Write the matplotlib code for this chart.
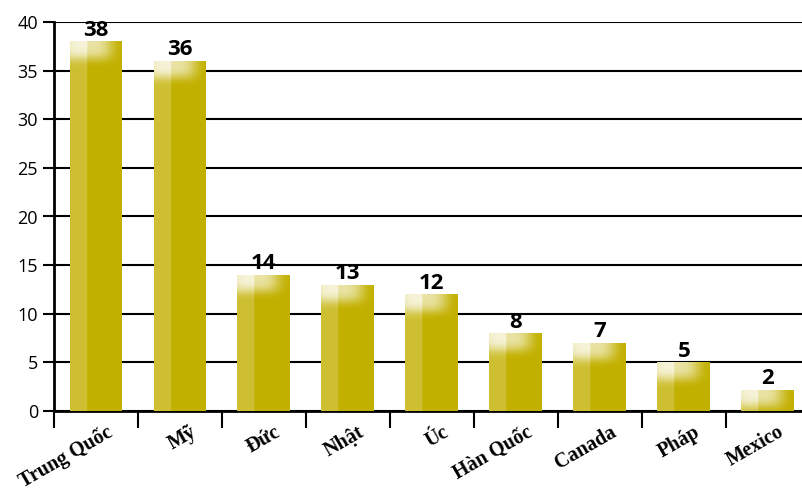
import numpy as np
import matplotlib.pyplot as plt
from matplotlib import transforms

countries = ['Trung Quốc', 'Mỹ', 'Đức', 'Nhật', 'Úc', 'Hàn Quốc', 'Canada', 'Pháp', 'Mexico']
values = [38, 36, 14, 13, 12, 8, 7, 5, 2.2]
labels = ['38', '36', '14', '13', '12', '8', '7', '5', '2']

base = '#C2B000'

fig = plt.figure(figsize=(8.03, 4.91), dpi=100)
ax = fig.add_axes([54 / 803, 80 / 491, 749 / 803, 389 / 491])

x = np.arange(len(countries))
bars = ax.bar(x, values, width=0.63, color=base, zorder=3)

# gloss: lighter left strip and a pale top-left highlight, clipped to each bar
for b in bars:
    x0, w, h = b.get_x(), b.get_width(), b.get_height()
    nx, ny = 80, 300
    xx = np.linspace(0, 1, nx)
    yy = np.linspace(0, 1, ny)
    X, Y = np.meshgrid(xx, yy)
    img = np.zeros((ny, nx, 4))
    img[..., :3] = [1.0, 1.0, 1.0]
    left = np.where(X < 0.32, 0.2, 0.0)
    top_px = (1 - Y) * h * 9.72  # distance from top in pixels
    top = 0.65 * np.exp(-((X - 0.3) / 0.5) ** 4 - (top_px / 18.0) ** 4)
    img[..., 3] = np.clip(left + top, 0, 1)
    im = ax.imshow(img, extent=[x0, x0 + w, 0, h], origin='lower', aspect='auto',
                   interpolation='bilinear', zorder=4)
    im.set_clip_path(b)

for xi, v, lab in zip(x, values, labels):
    ax.text(xi, v + 0.05, lab, ha='center', va='bottom', fontsize=16, fontweight='bold',
            fontstretch='condensed', family=['Liberation Sans Narrow', 'Open Sans', 'DejaVu Sans'],
            zorder=5)

ax.set_xlim(-0.5, 8.42)
ax.set_ylim(0, 40)
ax.set_yticks(range(0, 41, 5))
ax.yaxis.grid(True, color='black', linewidth=1.5, zorder=1)
ax.set_axisbelow(True)

ax.set_xticks(np.arange(-0.5, 8.5, 1.0))
ax.set_xticklabels([])
ax.tick_params(axis='x', length=12, width=1.5, direction='out')
ax.tick_params(axis='y', length=8, width=1.5, direction='out', labelsize=13)
for t in ax.get_yticklabels():
    t.set_family(['Liberation Sans Narrow', 'Open Sans', 'DejaVu Sans'])

for s in ['top', 'right']:
    ax.spines[s].set_visible(False)
ax.spines['left'].set_linewidth(2)
ax.spines['bottom'].set_linewidth(2)

offset = transforms.ScaledTranslation(10 / 100, -11 / 100, fig.dpi_scale_trans)
for xi, name in zip(x, countries):
    ax.text(xi, 0, name, rotation=30, rotation_mode='anchor', ha='right', va='top',
            fontsize=14.5, fontweight='bold', family=['Liberation Serif', 'DejaVu Serif'],
            transform=transforms.blended_transform_factory(ax.transData, ax.transAxes) + offset)

fig.savefig('out.png', dpi=100)
